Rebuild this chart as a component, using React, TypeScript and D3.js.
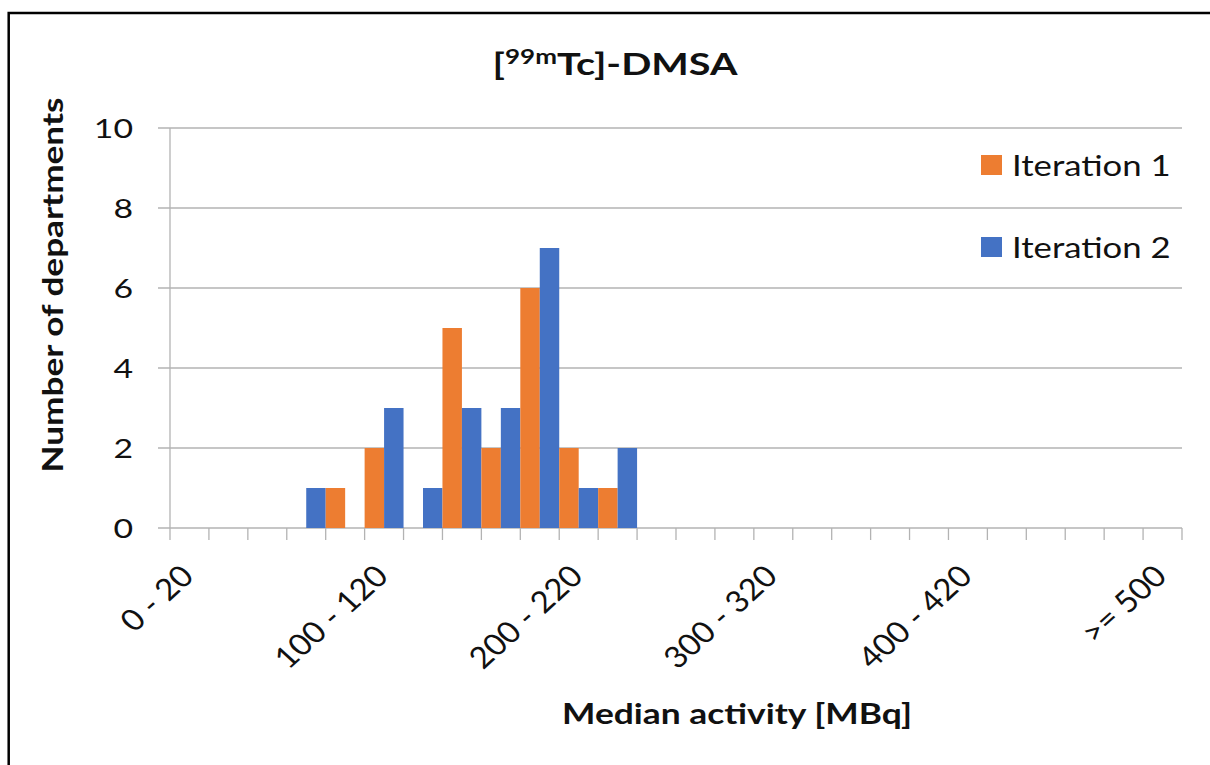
import React from "react";
import * as d3 from "d3";

const categories: string[] = [
  "0 - 20", "20 - 40", "40 - 60", "60 - 80", "80 - 100", "100 - 120", "120 - 140",
  "140 - 160", "160 - 180", "180 - 200", "200 - 220", "220 - 240", "240 - 260",
  "260 - 280", "280 - 300", "300 - 320", "320 - 340", "340 - 360", "360 - 380",
  "380 - 400", "400 - 420", "420 - 440", "440 - 460", "460 - 480", "480 - 500", ">= 500",
];
const iteration1: number[] = [0, 0, 0, 0, 1, 2, 0, 5, 2, 6, 2, 1, 0, 0, 0, 0, 0, 0, 0, 0, 0, 0, 0, 0, 0, 0];
const iteration2: number[] = [0, 0, 0, 1, 0, 3, 1, 3, 3, 7, 1, 2, 0, 0, 0, 0, 0, 0, 0, 0, 0, 0, 0, 0, 0, 0];
const seriesNames: string[] = ["Iteration 1", "Iteration 2"];
const seriesColors: string[] = ["#ED7D31", "#4472C4"];
const yTicks: number[] = [0, 2, 4, 6, 8, 10];
const labelEvery = 5;

const W = 1210;
const H = 765;
const SX = 1.3; // horizontal stretch of text in the reference
const FONT = "Lato, 'Open Sans', sans-serif";
const GRID = "#b3b3b3";
const TEXT = "#111";

export default function App() {
  const left = 170, right = 1182, top = 128, bottom = 528;
  const x = d3.scaleBand<string>().domain(categories).range([left, right]).padding(0);
  const xSub = d3.scaleBand<string>().domain(seriesNames).range([0, x.bandwidth()]).padding(0);
  const y = d3.scaleLinear().domain([0, 10]).range([bottom, top]);
  const series = [iteration1, iteration2];
  const boundaries = d3.range(categories.length + 1).map((i) => left + i * x.bandwidth());

  return (
    <svg width={W} height={H} style={{ position: "absolute", left: 0, top: 0, background: "#fff" }}
      fontFamily={FONT}>
      <rect x={0} y={0} width={W} height={H} fill="#fff" />
      <rect x={8.7} y={13} width={1400} height={1000} fill="none" stroke="#000" strokeWidth={2.5} />

      {/* gridlines */}
      {yTicks.map((t) => (
        <line key={"g" + t} x1={158} x2={right} y1={y(t)} y2={y(t)} stroke={GRID} strokeWidth={1.3} />
      ))}
      {/* y axis line */}
      <line x1={left} x2={left} y1={top} y2={bottom} stroke={GRID} strokeWidth={1.3} />
      {/* x ticks */}
      {boundaries.map((b, i) => (
        <line key={"xt" + i} x1={b} x2={b} y1={bottom} y2={bottom + 12} stroke={GRID} strokeWidth={1.3} />
      ))}

      {/* bars */}
      {categories.map((c, i) => (
        <g key={c}>
          {series.map((s, j) =>
            s[i] > 0 ? (
              <rect key={j} x={(x(c) as number) + (xSub(seriesNames[j]) as number)} y={y(s[i])}
                width={xSub.bandwidth()} height={y(0) - y(s[i])} fill={seriesColors[j]} />
            ) : null
          )}
        </g>
      ))}

      {/* y tick labels */}
      {yTicks.map((t) => (
        <text key={"yl" + t} transform={`translate(133,${y(t) + 9.5}) scale(${SX},1)`} textAnchor="end"
          fontSize={26} fill={TEXT}>{t}</text>
      ))}

      {/* x tick labels */}
      {categories.map((c, i) =>
        i % labelEvery === 0 ? (
          <text key={"xl" + c}
            transform={`translate(${(x(c) as number) + x.bandwidth() / 2 + 6},${578}) scale(1.1,1) rotate(-45)`}
            textAnchor="end" fontSize={30} fill={TEXT}>{c}</text>
        ) : null
      )}

      {/* title */}
      <text transform={`translate(615,75) scale(${SX},1)`} textAnchor="middle" fontSize={30.5}
        fontWeight="bold" fill={TEXT}>
        [<tspan fontSize={20} dy={-11}>99m</tspan><tspan dy={11}>Tc]-DMSA</tspan>
      </text>

      {/* axis titles */}
      <text transform={`translate(737,724) scale(1.22,1)`} textAnchor="middle" fontSize={29}
        fontWeight="bold" fill={TEXT}>Median activity [MBq]</text>
      <text transform={`translate(63,285) rotate(-90)`} textAnchor="middle" fontSize={29}
        fontWeight="bold" fill={TEXT} textLength={375} lengthAdjust="spacingAndGlyphs">Number of departments</text>

      {/* legend */}
      {seriesNames.map((n, j) => (
        <g key={n}>
          <rect x={981} y={155 + j * 82} width={21} height={20} fill={seriesColors[j]} />
          <text transform={`translate(1012,${176 + j * 82}) scale(1.24,1)`} fontSize={28} fill={TEXT}>{n}</text>
        </g>
      ))}
    </svg>
  );
}
